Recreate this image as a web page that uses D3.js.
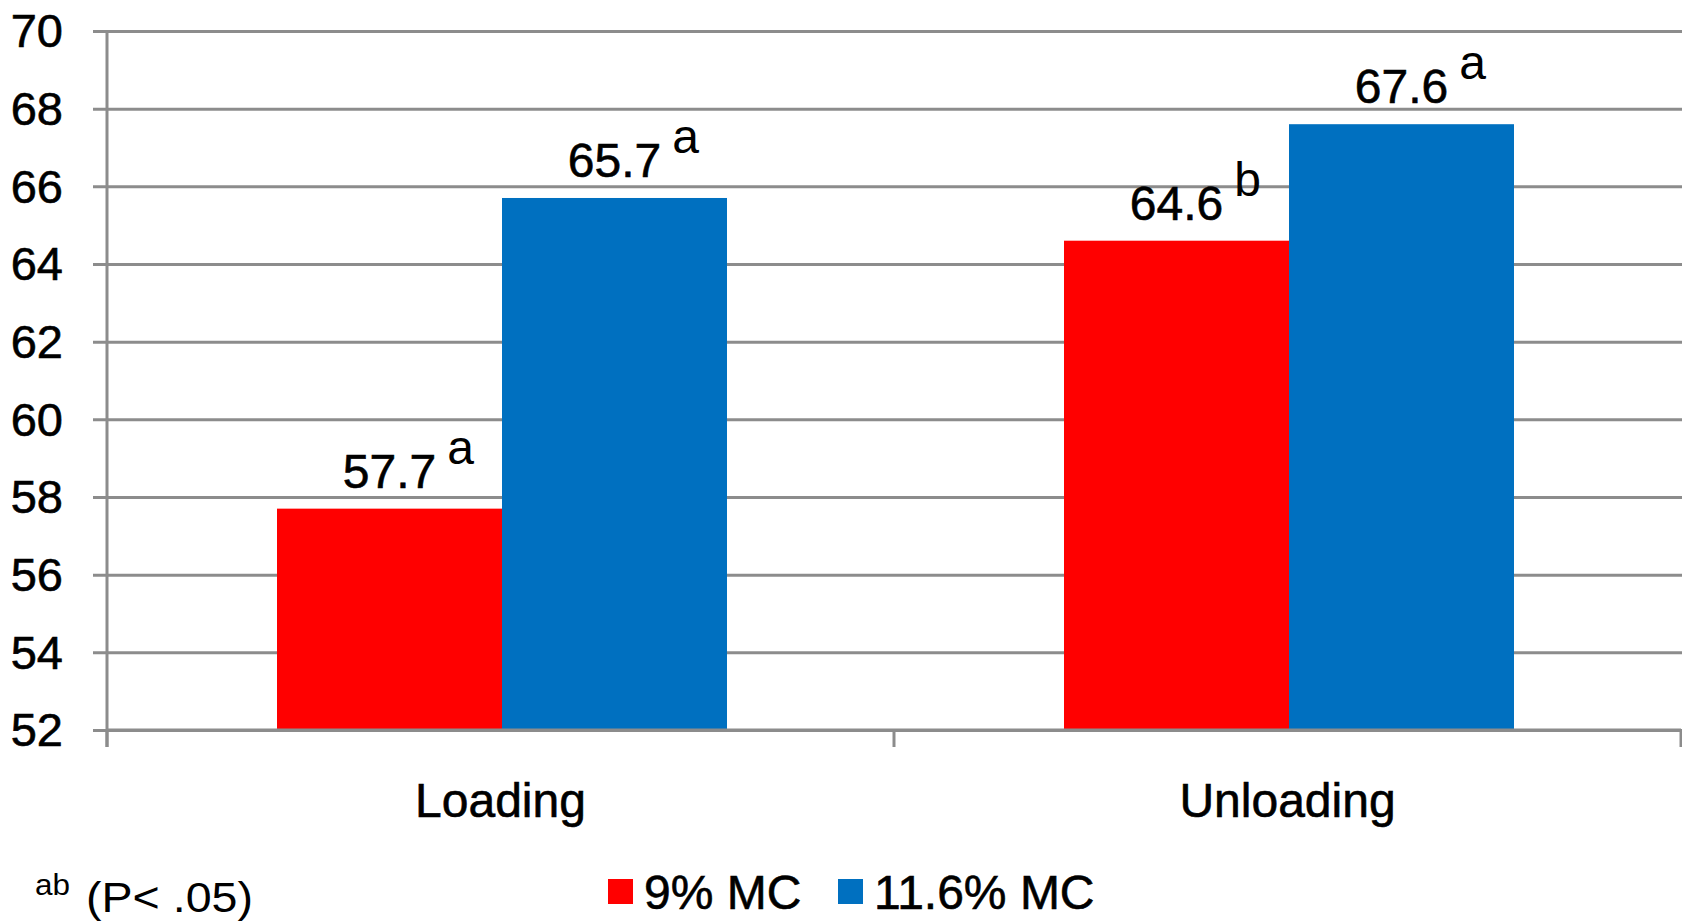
<!DOCTYPE html>
<html>
<head>
<meta charset="utf-8">
<script src="https://cdn.jsdelivr.net/npm/d3@7"></script>
<style>
  html, body { margin: 0; padding: 0; background: #fff; }
  svg { display: block; font-family: "Liberation Sans", Arial, sans-serif; }
  .heavy { stroke: #000; stroke-width: 0.6px; }
</style>
</head>
<body>
<svg id="chart" width="1682" height="921"></svg>
<script>
// Chart data
const categories = ["Loading", "Unloading"];
const seriesNames = ["9% MC", "11.6% MC"];
const mc9 = [57.7, 64.6];
const mc116 = [65.7, 67.6];
const letters9 = ["a", "b"];
const letters116 = ["a", "a"];
const yTicks = [52, 54, 56, 58, 60, 62, 64, 66, 68, 70];
const footnoteSup = "ab";
const footnoteText = "(P< .05)";

const colors = ["#FF0000", "#0070C0"];
const gridColor = "#8c8c8c";

const svg = d3.select("#chart");

const plot = { left: 107, right: 1681, top: 31, bottom: 730 };

const y = d3.scaleLinear().domain([52, 70]).range([plot.bottom, plot.top]);
const x0 = d3.scaleBand().domain(categories).range([plot.left, plot.right]).padding(0);
const x1 = d3.scaleBand().domain(seriesNames).range([170, 620]).padding(0);

// Horizontal gridlines with short outer ticks, plus tick labels
const yAxis = d3.axisLeft(y).tickValues(yTicks).tickSize(-(1682 - plot.left)).tickSizeOuter(0).tickPadding(44).tickFormat(d3.format("d"));
const gy = svg.append("g").attr("transform", `translate(${plot.left},0)`).call(yAxis);
gy.select(".domain").remove();
gy.selectAll(".tick line")
  .attr("x1", -14)
  .attr("stroke", gridColor).attr("stroke-width", 3);
gy.selectAll(".tick text")
  .attr("class", "heavy")
  .attr("fill", "#000").attr("font-size", 47).attr("dy", "0.34em")
  .attr("font-family", "'Liberation Sans', Arial, sans-serif");

// Bars
const rows = categories.map((c, i) => ({ cat: c, vals: [mc9[i], mc116[i]], letters: [letters9[i], letters116[i]] }));
const groups = svg.append("g").selectAll("g").data(rows).join("g")
  .attr("transform", d => `translate(${x0(d.cat)},0)`);

groups.selectAll("rect")
  .data(d => d.vals.map((v, j) => ({ s: seriesNames[j], v, j, letter: d.letters[j] })))
  .join("rect")
  .attr("x", d => x1(d.s))
  .attr("width", x1.bandwidth())
  .attr("y", d => y(d.v))
  .attr("height", d => y(52) - y(d.v))
  .attr("fill", d => colors[d.j]);

// Value labels with superscript significance letters
groups.each(function (d) {
  const g = d3.select(this);
  d.vals.forEach((v, j) => {
    const cx = x1(seriesNames[j]) + x1.bandwidth() / 2;
    const by = y(v) - 21;
    const num = g.append("text")
      .attr("class", "heavy")
      .attr("x", cx).attr("y", by)
      .attr("text-anchor", "middle")
      .attr("font-size", 48).attr("fill", "#000")
      .text(v.toFixed(1));
    const w = num.node().getComputedTextLength();
    g.append("text")
      .attr("x", cx + w / 2 + 11).attr("y", by - 24)
      .attr("font-size", 48).attr("fill", "#000")
      .text(d.letters[j]);
  });
});

// X axis with category labels
const xAxis = d3.axisBottom(x0).tickSize(0).tickPadding(0);
const gx = svg.append("g").attr("transform", `translate(0,${plot.bottom})`).call(xAxis);
gx.select(".domain").remove();
gx.selectAll(".tick text")
  .attr("class", "heavy")
  .attr("font-size", 48).attr("fill", "#000")
  .attr("dy", 0).attr("y", 87)
  .attr("font-family", "'Liberation Sans', Arial, sans-serif");

svg.append("line")
  .attr("x1", plot.left).attr("x2", plot.right)
  .attr("y1", plot.bottom).attr("y2", plot.bottom)
  .attr("stroke", gridColor).attr("stroke-width", 3);
// Category boundary ticks
const boundaries = categories.map(c => x0(c)).concat([x0(categories[categories.length - 1]) + x0.bandwidth()]);
svg.append("g").selectAll("line").data(boundaries).join("line")
  .attr("x1", d => d).attr("x2", d => d)
  .attr("y1", plot.bottom).attr("y2", plot.bottom + 17)
  .attr("stroke", gridColor).attr("stroke-width", 3);
// Vertical value axis line
svg.append("line")
  .attr("x1", plot.left).attr("x2", plot.left)
  .attr("y1", plot.top).attr("y2", plot.bottom + 17)
  .attr("stroke", gridColor).attr("stroke-width", 3);

// Legend
const legendPos = [608, 838];
const legend = svg.append("g").selectAll("g").data(seriesNames).join("g")
  .attr("transform", (d, i) => `translate(${legendPos[i]},0)`);
legend.append("rect")
  .attr("x", 0).attr("y", 879).attr("width", 25).attr("height", 25)
  .attr("fill", (d, i) => colors[i]);
legend.append("text")
  .attr("class", "heavy")
  .attr("x", 36).attr("y", 909)
  .attr("font-size", 48).attr("fill", "#000")
  .text(d => d);

// Footnote
svg.append("text")
  .attr("x", 35).attr("y", 895)
  .attr("font-size", 30).attr("fill", "#000")
  .attr("textLength", 35).attr("lengthAdjust", "spacingAndGlyphs")
  .text(footnoteSup);
svg.append("text")
  .attr("x", 86).attr("y", 912)
  .attr("font-size", 43).attr("fill", "#000")
  .attr("textLength", 167).attr("lengthAdjust", "spacingAndGlyphs")
  .text(footnoteText);
</script>
</body>
</html>
